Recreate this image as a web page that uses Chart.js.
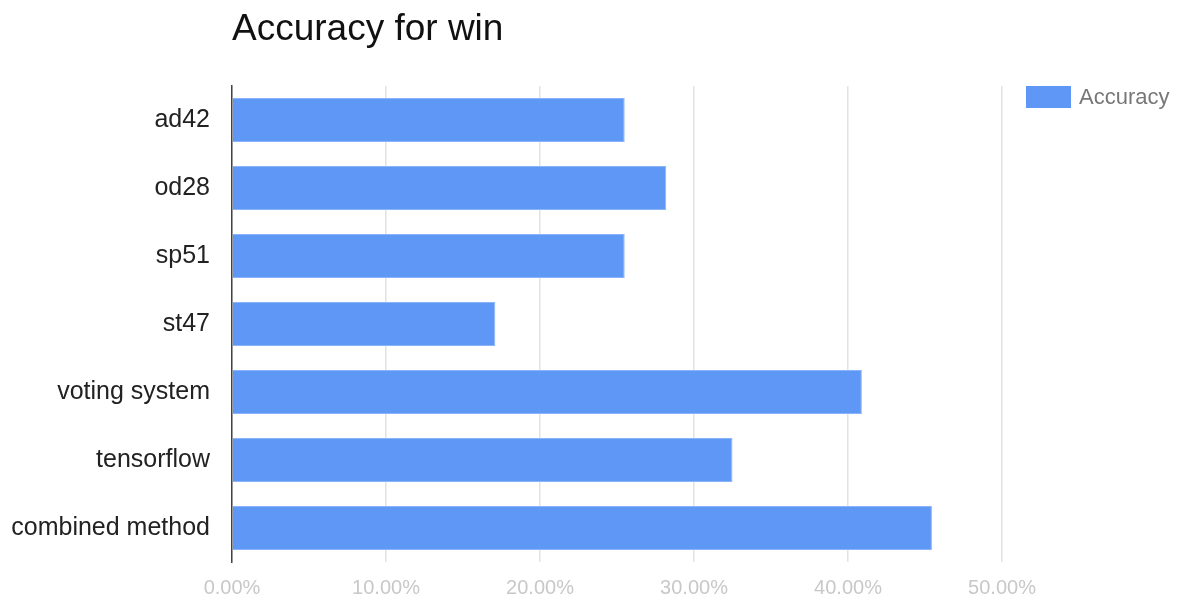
<!DOCTYPE html>
<html>
<head>
<meta charset="utf-8">
<script src="https://cdn.jsdelivr.net/npm/chart.js@4"></script>
<style>
  html, body { margin: 0; padding: 0; background: #fff; }
  #wrap { width: 1177px; height: 596px; }
</style>
</head>
<body>
<div id="wrap"><canvas id="accChart" width="1177" height="596"></canvas></div>
<script>
// data (fraction, shown as %)
const methods = ["ad42", "od28", "sp51", "st47", "voting system", "tensorflow", "combined method"];
const accuracy = [0.255, 0.282, 0.255, 0.171, 0.409, 0.325, 0.4545];
const xTicks = [0, 0.1, 0.2, 0.3, 0.4, 0.5];

const FONT = "Arial, 'Liberation Sans', sans-serif";
const BAR = "#5f97f6";

// title + legend drawn by hand so they sit where the original has them
const decor = {
  id: "decor",
  afterDraw(chart) {
    const c = chart.ctx;
    c.save();
    c.fillStyle = "#111";
    c.font = "37px " + FONT;
    c.textBaseline = "alphabetic";
    c.textAlign = "left";
    c.fillText("Accuracy for win", 232, 40);

    c.fillStyle = BAR;
    c.fillRect(1026, 86, 45, 22);
    c.fillStyle = "#777";
    c.font = "22px " + FONT;
    c.textBaseline = "middle";
    c.fillText("Accuracy", 1079, 98);
    c.restore();
  }
};

new Chart(document.getElementById("accChart"), {
  type: "bar",
  data: {
    labels: methods,
    datasets: [{
      label: "Accuracy",
      data: accuracy,
      backgroundColor: BAR,
      borderColor: "#8ab4f8",
      borderWidth: 1,
      borderSkipped: "left",
      categoryPercentage: 1,
      barPercentage: 0.648
    }]
  },
  options: {
    indexAxis: "y",
    responsive: false,
    animation: false,
    layout: { padding: { top: 86, right: 175, left: 0, bottom: 0 } },
    plugins: {
      legend: { display: false },
      title: { display: false },
      tooltip: { enabled: false }
    },
    scales: {
      x: {
        min: 0,
        max: 0.5,
        afterBuildTicks: s => { s.ticks = xTicks.map(v => ({ value: v })); },
        afterFit: s => { s.height = 34; },
        grid: { color: "#e3e3e3", lineWidth: 1.5, drawTicks: false },
        border: { display: false },
        ticks: {
          color: "#c8c8c8",
          font: { family: FONT, size: 20 },
          padding: 14,
          callback: v => (v * 100).toFixed(2) + "%"
        }
      },
      y: {
        afterFit: s => { s.width = 232; },
        grid: { display: false },
        border: { display: true, color: "#444", width: 1.5 },
        ticks: {
          color: "#222",
          font: { family: FONT, size: 25 },
          padding: 14
        }
      }
    }
  },
  plugins: [decor]
});
</script>
</body>
</html>
